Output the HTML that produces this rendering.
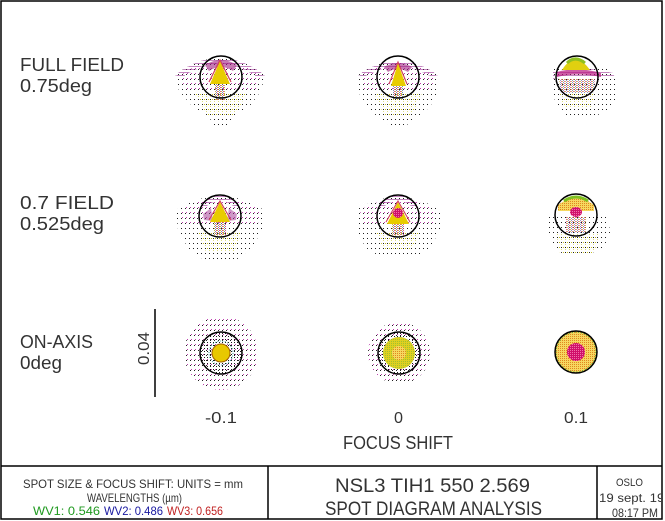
<!DOCTYPE html>
<html><head><meta charset="utf-8"><style>
html,body{margin:0;padding:0;background:#fff;}
svg{display:block;}
text{font-family:"Liberation Sans",sans-serif;fill:#333;}
</style></head><body>
<svg width="665" height="521" viewBox="0 0 665 521" xmlns="http://www.w3.org/2000/svg">
<defs>
<pattern id="dk" width="4" height="5" patternUnits="userSpaceOnUse"><rect x="1" y="2" width="1" height="1" fill="#202020"/></pattern>
<pattern id="pk" width="4" height="5" patternUnits="userSpaceOnUse"><rect x="2" y="1" width="1" height="1" fill="#c040b0"/></pattern>
<pattern id="dk2" width="3" height="3" patternUnits="userSpaceOnUse"><rect x="1" y="1" width="1" height="1" fill="#1a1a1a"/></pattern>
<pattern id="pu" width="2" height="3" patternUnits="userSpaceOnUse"><rect x="0.5" y="1" width="1" height="1" fill="#8a1080"/></pattern>
<pattern id="yl" width="4" height="5" patternUnits="userSpaceOnUse"><rect x="3" y="2" width="1" height="1" fill="#c8c020"/><rect x="1" y="4" width="1" height="1" fill="#e0e080"/></pattern>
<pattern id="mx" width="3" height="2" patternUnits="userSpaceOnUse"><rect width="1" height="1" fill="#c0a020"/><rect x="1" y="1" width="1" height="1" fill="#6070a0"/><rect x="2" y="0" width="1" height="1" fill="#d03070"/></pattern>
<pattern id="or" width="2" height="2" patternUnits="userSpaceOnUse"><rect width="2" height="2" fill="#f6d860"/><rect width="1" height="1" fill="#e08820"/></pattern>
<pattern id="mg" width="2" height="2" patternUnits="userSpaceOnUse"><rect width="2" height="2" fill="#d0106a"/><rect width="1" height="1" fill="#f070a8"/></pattern>
<pattern id="yg" width="2" height="2" patternUnits="userSpaceOnUse"><rect width="2" height="2" fill="#e0d020"/><rect width="1" height="1" fill="#a0c030"/></pattern>
<clipPath id="clipR"><rect x="598" y="467" width="63" height="52"/></clipPath>
</defs>

<!-- frame -->
<rect x="1" y="1" width="661" height="518" fill="none" stroke="#000" stroke-width="1.5"/>
<line x1="1" y1="466" x2="662" y2="466" stroke="#000" stroke-width="1.5"/>
<line x1="268" y1="466" x2="268" y2="519" stroke="#000" stroke-width="1.5"/>
<line x1="597" y1="466" x2="597" y2="519" stroke="#000" stroke-width="1.5"/>

<!-- row labels -->
<text x="20" y="71" font-size="18" textLength="104" lengthAdjust="spacingAndGlyphs">FULL FIELD</text>
<text x="20" y="92" font-size="18" textLength="72" lengthAdjust="spacingAndGlyphs">0.75deg</text>
<text x="20" y="209" font-size="18" textLength="94" lengthAdjust="spacingAndGlyphs">0.7 FIELD</text>
<text x="20" y="230" font-size="18" textLength="84" lengthAdjust="spacingAndGlyphs">0.525deg</text>
<text x="20" y="348" font-size="18" textLength="73" lengthAdjust="spacingAndGlyphs">ON-AXIS</text>
<text x="20" y="369" font-size="18" textLength="42" lengthAdjust="spacingAndGlyphs">0deg</text>

<!-- scale bar -->
<line x1="155" y1="309" x2="155" y2="397" stroke="#000" stroke-width="1.5"/>
<text transform="translate(149,365) rotate(-90)" font-size="16" textLength="33" lengthAdjust="spacingAndGlyphs">0.04</text>

<!-- focus labels -->
<text x="205" y="423" font-size="16" textLength="32" lengthAdjust="spacingAndGlyphs">-0.1</text>
<text x="394" y="423" font-size="16" textLength="9" lengthAdjust="spacingAndGlyphs">0</text>
<text x="564" y="423" font-size="16" textLength="24" lengthAdjust="spacingAndGlyphs">0.1</text>
<text x="343" y="449" font-size="18" textLength="110" lengthAdjust="spacingAndGlyphs">FOCUS SHIFT</text>

<!-- R1C1 -->
<g transform="translate(221,77)">
<path d="M-46,-2 Q-2,-36 44,-2 L40,14 L28,30 L12,40 L6,51 L-6,51 L-12,40 L-28,30 L-42,14 Z" fill="url(#dk)"/>
<path d="M-40,-2 Q-2,-30 40,-2 L36,14 L-36,14 Z" fill="url(#pk)"/>
<path d="M-26,16 L26,16 L14,38 L-14,38 Z" fill="url(#yl)"/>
<path d="M-46,-2 Q-2,-36 44,-2 L38,1 Q-2,-26 -40,1 Z" fill="url(#pu)"/>
<path d="M-16,-12 Q0,-22 16,-12 L12,-6 Q0,-14 -12,-6 Z" fill="#a02080" opacity="0.6"/>
<polygon points="-1,-16 9,7 -11,7" fill="#e8cc00"/>
<polyline points="-12,5 -1,-17 10,5" fill="none" stroke="#d04060" stroke-width="1.2"/>
<rect x="-6" y="7" width="10" height="16" fill="url(#mx)" opacity="0.8"/>
<circle r="21" fill="none" stroke="#000" stroke-width="1.5"/>
</g>

<!-- R1C2 -->
<g transform="translate(398,77)">
<path d="M-40,-2 Q0,-30 40,-2 L40,14 L32,30 L20,40 L6,50 L-6,50 L-20,40 L-32,30 L-40,14 Z" fill="url(#dk)"/>
<path d="M-36,-2 Q0,-26 36,-2 L34,12 L-34,12 Z" fill="url(#pk)"/>
<path d="M-24,16 L24,16 L14,38 L-14,38 Z" fill="url(#yl)"/>
<path d="M-40,-2 Q0,-30 40,-2 L34,0 Q0,-20 -34,0 Z" fill="url(#pu)"/>
<path d="M-14,-10 Q0,-18 14,-10 L10,-5 Q0,-11 -10,-5 Z" fill="#a02080" opacity="0.6"/>
<polygon points="0,-14 8,9 -7,9" fill="#e8cc00"/>
<polyline points="-9,7 0,-15 9,7" fill="none" stroke="#d04060" stroke-width="1.1"/>
<rect x="-5" y="9" width="10" height="13" fill="url(#mx)" opacity="0.8"/>
<circle r="21" fill="none" stroke="#000" stroke-width="1.5"/>
</g>

<!-- R1C3 -->
<g transform="translate(577,77)">
<path d="M-26,-8 L30,-8 L40,4 L40,22 L30,36 L10,40 L-12,38 L-22,24 L-26,6 Z" fill="url(#dk)"/>
<path d="M-18,2 L18,2 L16,16 L-16,16 Z" fill="url(#mx)" opacity="0.7"/>
<path d="M-18,16 L18,16 L14,30 L-14,30 Z" fill="url(#yl)"/>
<path d="M-24,-5 Q0,-13 36,-4 L38,1 Q0,-3 -24,2 Z" fill="url(#pu)"/>
<path d="M-20,-5 Q0,-11 24,-4 L24,0 Q0,-5 -20,0 Z" fill="#b81880" opacity="0.7"/>
<path d="M-15,-7 Q-2,-28 13,-7 Z" fill="#e0d010"/>
<path d="M-10,-14 Q-2,-22 8,-14" fill="none" stroke="#90c020" stroke-width="3"/>
<circle r="21" fill="none" stroke="#000" stroke-width="1.5"/>
</g>

<!-- R2C1 -->
<g transform="translate(220,216)">
<path d="M-44,-6 Q0,-34 44,-6 L42,14 L32,32 L16,44 L-16,44 L-32,32 L-42,14 Z" fill="url(#dk)"/>
<path d="M-40,-6 Q0,-30 40,-6 L38,8 L-38,8 Z" fill="url(#pk)"/>
<path d="M-22,16 L22,16 L14,36 L-14,36 Z" fill="url(#yl)"/>
<path d="M-20,-12 Q0,-30 20,-12 L16,-8 Q0,-22 -16,-8 Z" fill="url(#pu)"/>
<path d="M-17,-2 L-9,-8 L-7,5 L-16,4 Z" fill="#a03090" opacity="0.5"/>
<path d="M17,-2 L9,-8 L7,5 L16,4 Z" fill="#a03090" opacity="0.5"/>
<polygon points="0,-14 10,6 -10,6" fill="#e8cc00"/>
<polyline points="-11,4 0,-15 11,4" fill="none" stroke="#d04060" stroke-width="1.1"/>
<rect x="-6" y="6" width="12" height="13" fill="url(#mx)" opacity="0.8"/>
<circle r="21" fill="none" stroke="#000" stroke-width="1.5"/>
</g>

<!-- R2C2 -->
<g transform="translate(398,216)">
<path d="M-42,-6 Q0,-32 42,-6 L42,14 L32,32 L16,42 L-16,42 L-32,32 L-42,14 Z" fill="url(#dk)"/>
<path d="M-38,-6 Q0,-28 38,-6 L36,8 L-36,8 Z" fill="url(#pk)"/>
<path d="M-22,16 L22,16 L14,34 L-14,34 Z" fill="url(#yl)"/>
<path d="M-20,-12 Q0,-30 20,-12 L16,-8 Q0,-22 -16,-8 Z" fill="url(#pu)"/>
<polygon points="0,-14 11,8 -11,8" fill="#e8cc00"/>
<ellipse cx="0" cy="-3" rx="5" ry="5" fill="url(#mg)"/>
<polyline points="-12,6 0,-15 12,6" fill="none" stroke="#d04060" stroke-width="1.1"/>
<rect x="-6" y="8" width="12" height="11" fill="url(#mx)" opacity="0.8"/>
<circle r="21" fill="none" stroke="#000" stroke-width="1.5"/>
</g>

<!-- R2C3 -->
<g transform="translate(576,215)">
<path d="M-28,-2 L32,-2 L34,18 L28,32 L12,40 L-12,40 L-24,30 L-28,14 Z" fill="url(#dk)"/>
<path d="M-20,18 L24,18 L18,38 L-16,38 Z" fill="url(#yl)"/>
<path d="M-18,-10 Q0,-24 18,-10 L18,-4 L-18,-4 Z" fill="url(#or)"/>
<path d="M-12,-14 Q0,-22 12,-14" fill="none" stroke="#80c020" stroke-width="3"/>
<ellipse cx="0" cy="-3" rx="6" ry="5" fill="url(#mg)"/>
<rect x="-10" y="2" width="20" height="16" fill="url(#mx)" opacity="0.7"/>
<circle r="21" fill="none" stroke="#000" stroke-width="1.5"/>
</g>

<!-- R3C1 -->
<g transform="translate(221,353)">
<circle r="37" fill="url(#dk)"/>
<circle r="37" fill="url(#pk)"/>
<circle r="21" fill="url(#dk2)"/>
<circle r="12" fill="none" stroke="#40a0a0" stroke-width="1" stroke-dasharray="1 1.5"/>
<circle r="9" fill="#e8c800" stroke="#a06000" stroke-width="1"/>
<circle r="21" fill="none" stroke="#000" stroke-width="1.5"/>
</g>

<!-- R3C2 -->
<g transform="translate(399,353)">
<circle r="31" fill="url(#dk)"/>
<circle r="31" fill="url(#pk)"/>
<circle r="22" fill="url(#dk2)"/>
<circle r="16" fill="url(#yg)"/>
<circle r="7" fill="url(#or)"/>
<circle r="21" fill="none" stroke="#000" stroke-width="1.5"/>
</g>

<!-- R3C3 -->
<g transform="translate(576,352)">
<circle r="21" fill="url(#or)"/>
<circle r="20" fill="none" stroke="#60b040" stroke-width="1.5" stroke-dasharray="1 2"/>
<circle r="9" fill="url(#mg)"/>
<circle r="21" fill="none" stroke="#000" stroke-width="1.5"/>
</g>

<!-- footer left -->
<text x="23" y="488" font-size="12" textLength="220" lengthAdjust="spacingAndGlyphs">SPOT SIZE &amp; FOCUS SHIFT: UNITS = mm</text>
<text x="87" y="502" font-size="12" textLength="95" lengthAdjust="spacingAndGlyphs">WAVELENGTHS (µm)</text>
<text x="33" y="515" font-size="12" textLength="67" lengthAdjust="spacingAndGlyphs" style="fill:#209a20">WV1: 0.546</text>
<text x="104" y="515" font-size="12" textLength="59" lengthAdjust="spacingAndGlyphs" style="fill:#1818a0">WV2: 0.486</text>
<text x="167" y="515" font-size="12" textLength="56" lengthAdjust="spacingAndGlyphs" style="fill:#c02020">WV3: 0.656</text>

<!-- footer middle -->
<text x="335" y="492" font-size="19" textLength="195" lengthAdjust="spacingAndGlyphs">NSL3 TIH1 550 2.569</text>
<text x="325" y="515" font-size="19" textLength="217" lengthAdjust="spacingAndGlyphs">SPOT DIAGRAM ANALYSIS</text>

<!-- footer right -->
<text x="616" y="486" font-size="11" textLength="27" lengthAdjust="spacingAndGlyphs">OSLO</text>
<g clip-path="url(#clipR)">
<text x="599" y="502" font-size="12" textLength="80" lengthAdjust="spacingAndGlyphs">19 sept. 1999</text>
</g>
<text x="612" y="517" font-size="12" textLength="46" lengthAdjust="spacingAndGlyphs">08:17 PM</text>
</svg>
</body></html>
